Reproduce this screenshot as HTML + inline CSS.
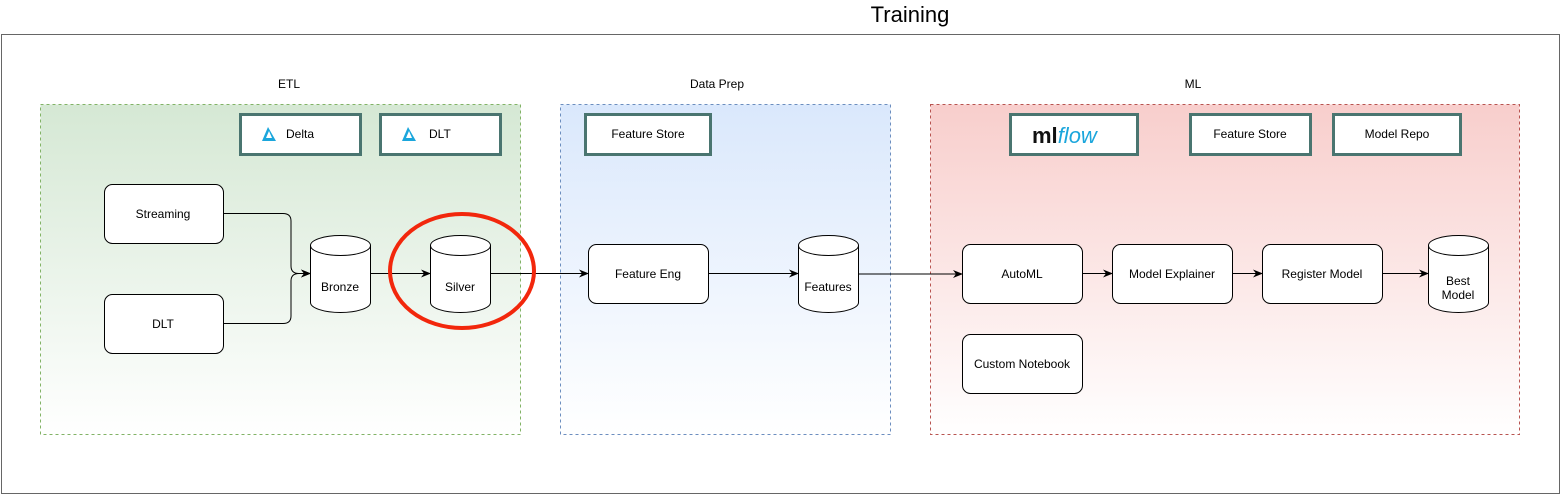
<!DOCTYPE html>
<html><head><meta charset="utf-8"><style>
html,body{margin:0;padding:0;background:#fff;}
svg{display:block;font-family:"Liberation Sans",Arial,sans-serif;}
</style></head><body>
<svg width="1561" height="495" viewBox="0 0 1561 495" xmlns="http://www.w3.org/2000/svg">
<defs>
<linearGradient id="g" x1="0" y1="0" x2="0" y2="1"><stop offset="0" stop-color="#d5e8d4"/><stop offset="1" stop-color="#ffffff"/></linearGradient>
<linearGradient id="b" x1="0" y1="0" x2="0" y2="1"><stop offset="0" stop-color="#dae8fc"/><stop offset="1" stop-color="#ffffff"/></linearGradient>
<linearGradient id="r" x1="0" y1="0" x2="0" y2="1"><stop offset="0" stop-color="#f8cecc"/><stop offset="1" stop-color="#ffffff"/></linearGradient>
<marker id="a" markerWidth="10" markerHeight="8" refX="9" refY="4" orient="auto" markerUnits="userSpaceOnUse"><path d="M0,0 L10,4 L0,8 L3,4 Z" fill="#000"/></marker>
<g id="cyl"><path d="M0,10 A30,10 0 0 1 60,10 L60,67 A30,10 0 0 1 0,67 Z" fill="#fff" stroke="#000" stroke-width="1"/><path d="M0,10 A30,10 0 0 0 60,10" fill="none" stroke="#000"/></g>
</defs>
<text x="910" y="22" font-size="22" text-anchor="middle">Training</text>
<rect x="1.5" y="34.5" width="1558" height="459" fill="#fff" stroke="#666"/>
<g font-size="12" text-anchor="middle">
<text x="289" y="88">ETL</text><text x="717" y="88">Data Prep</text><text x="1193" y="88">ML</text>
</g>
<rect x="40.5" y="104.5" width="480" height="330" fill="url(#g)" stroke="#82b366" stroke-dasharray="3,3"/>
<rect x="560.5" y="104.5" width="330" height="330" fill="url(#b)" stroke="#6c8ebf" stroke-dasharray="3,3"/>
<rect x="930.5" y="104.5" width="589" height="330" fill="url(#r)" stroke="#b85450" stroke-dasharray="3,3"/>
<g fill="#fff" stroke="#4a7570" stroke-width="3">
<rect x="240.5" y="114.5" width="120" height="40"/><rect x="380.5" y="114.5" width="120" height="40"/>
<rect x="585.5" y="114.5" width="125" height="40"/><rect x="1010.5" y="114.5" width="127" height="40"/>
<rect x="1190.5" y="114.5" width="120" height="40"/><rect x="1333.5" y="114.5" width="127" height="40"/>
</g>
<g fill="#1ba6dc"><path d="M268,127 L262,141 L276,141 Z M269,131 L266,138 L272,138 Z" fill-rule="evenodd"/><path d="M408,127 L402,141 L416,141 Z M409,131 L406,138 L412,138 Z" fill-rule="evenodd"/></g>
<g font-size="12">
<text x="286" y="138">Delta</text><text x="429" y="138">DLT</text>
<text x="648" y="138" text-anchor="middle">Feature Store</text>
<text x="1250" y="138" text-anchor="middle">Feature Store</text>
<text x="1397" y="138" text-anchor="middle">Model Repo</text>
</g>
<text x="1032" y="143" font-size="22" font-weight="bold" fill="#111">ml<tspan fill="#1ba6dc" font-style="italic" font-weight="normal">flow</tspan></text>
<g fill="#fff" stroke="#000">
<rect x="104.5" y="184.5" width="119" height="59" rx="8"/><rect x="104.5" y="294.5" width="119" height="59" rx="8"/>
<rect x="588.5" y="244.5" width="120" height="59" rx="8"/>
<rect x="962.5" y="244.5" width="120" height="59" rx="8"/><rect x="1112.5" y="244.5" width="120" height="59" rx="8"/>
<rect x="1262.5" y="244.5" width="120" height="59" rx="8"/><rect x="962.5" y="334.5" width="120" height="59" rx="8"/>
</g>
<use href="#cyl" x="310.5" y="235.5"/><use href="#cyl" x="430.5" y="235.5"/>
<use href="#cyl" x="798.5" y="235.5"/><use href="#cyl" x="1428.5" y="235.5"/>
<g fill="none" stroke="#000" marker-end="url(#a)">
<path d="M223,213.5 L283,213.5 Q291,213.5 291,221 L291,266 Q291,273.5 299,273.5 L310,273.5"/>
<path d="M223,323.5 L283,323.5 Q291,323.5 291,316 L291,281 Q291,273.5 299,273.5 L310,273.5"/>
<path d="M370,273.5 L430,273.5"/><path d="M490,273.5 L588,273.5"/>
<path d="M708,273.5 L798,273.5"/><path d="M858,274 L962,274"/>
<path d="M1082,273.5 L1112,273.5"/><path d="M1232,273.5 L1262,273.5"/><path d="M1382,273.5 L1428,273.5"/>
</g>
<g font-size="12" text-anchor="middle">
<text x="163" y="218">Streaming</text><text x="163" y="328">DLT</text>
<text x="340" y="291">Bronze</text><text x="460" y="291">Silver</text>
<text x="648" y="278">Feature Eng</text><text x="828" y="291">Features</text>
<text x="1022" y="278">AutoML</text><text x="1172" y="278">Model Explainer</text>
<text x="1322" y="278">Register Model</text><text x="1022" y="368">Custom Notebook</text>
<text x="1458" y="285">Best</text><text x="1458" y="299">Model</text>
</g>
<ellipse cx="462" cy="271" rx="72" ry="57" fill="none" stroke="#f2270c" stroke-width="4"/>
</svg>
</body></html>
